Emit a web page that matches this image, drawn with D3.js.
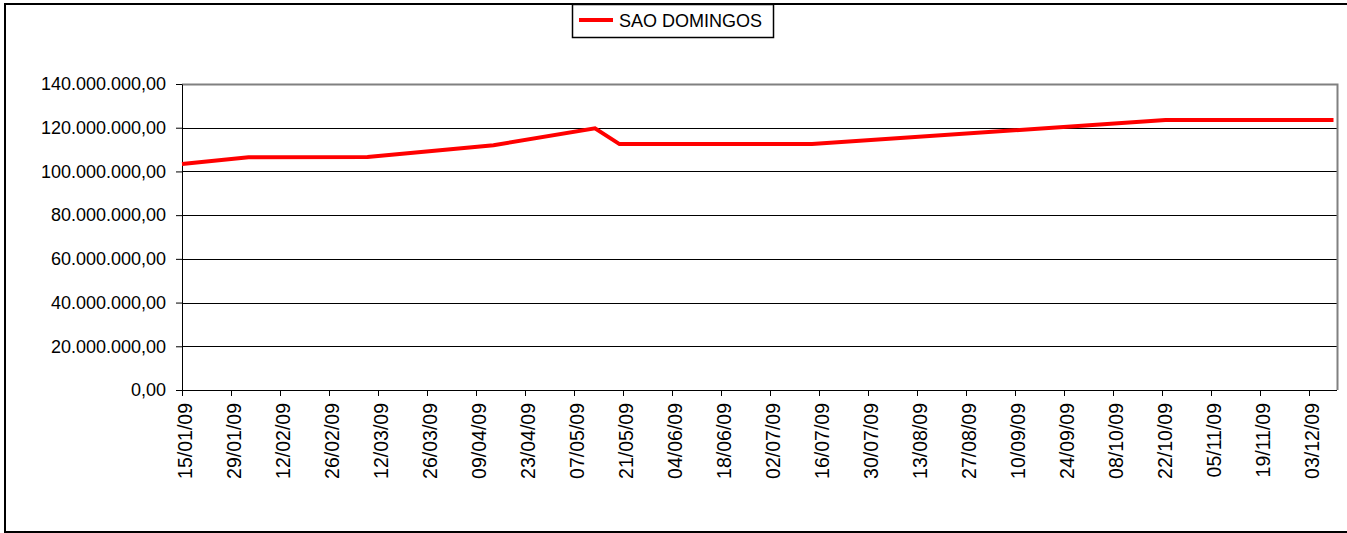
<!DOCTYPE html>
<html>
<head>
<meta charset="utf-8">
<script src="https://cdn.jsdelivr.net/npm/d3@7.9.0/dist/d3.min.js"></script>
<style>
  body { margin: 0; background: #fff; }
  svg { display: block; font-family: "Liberation Sans", Arial, sans-serif; }
</style>
</head>
<body>
<div id="chart"></div>
<script>
// series
const seriesName = 'SAO DOMINGOS';
const dates = ['15/01/09', '03/02/09', '09/03/09', '14/04/09', '13/05/09', '20/05/09', '14/07/09', '23/10/09', '10/12/09'];
const values = [103400000, 106500000, 106600000, 112000000, 119700000, 112500000, 112500000, 123500000, 123500000];

// axis ticks
const xTickLabels = ['15/01/09', '29/01/09', '12/02/09', '26/02/09', '12/03/09', '26/03/09', '09/04/09', '23/04/09',
  '07/05/09', '21/05/09', '04/06/09', '18/06/09', '02/07/09', '16/07/09', '30/07/09', '13/08/09', '27/08/09',
  '10/09/09', '24/09/09', '08/10/09', '22/10/09', '05/11/09', '19/11/09', '03/12/09'];
const yTicks = [0, 20000000, 40000000, 60000000, 80000000, 100000000, 120000000, 140000000];
const xDomain = ['15/01/09', '11/12/09'];

const parseDate = d3.timeParse('%d/%m/%y');
const data = dates.map((d, i) => ({ date: parseDate(d), value: values[i] }));

const width = 1347;
const height = 533;
const plot = { left: 182, right: 1337, top: 84, bottom: 390 };

const locale = d3.formatLocale({ decimal: ',', thousands: '.', grouping: [3], currency: ['', ''] });
const fmt = locale.format(',.2f');

const svg = d3.select('#chart')
  .append('svg')
  .attr('width', width)
  .attr('height', height);

// outer frame
svg.append('rect')
  .attr('x', 5)
  .attr('y', 4)
  .attr('width', width)
  .attr('height', 528)
  .attr('fill', 'none')
  .attr('stroke', '#000')
  .attr('stroke-width', 2);

const xScale = d3.scaleTime()
  .domain(xDomain.map(parseDate))
  .range([plot.left, plot.right]);

const yScale = d3.scaleLinear()
  .domain([0, 140000000])
  .range([plot.bottom, plot.top]);

// gridlines
svg.append('g')
  .selectAll('line')
  .data(yTicks.filter(d => d > 0 && d < 140000000))
  .join('line')
  .attr('x1', plot.left)
  .attr('x2', plot.right)
  .attr('y1', d => Math.round(yScale(d)) + 0.5)
  .attr('y2', d => Math.round(yScale(d)) + 0.5)
  .attr('stroke', '#000')
  .attr('stroke-width', 1);

// plot area border (top + right, grey)
svg.append('path')
  .attr('d', `M${plot.left},${plot.top + 0.5}H${plot.right + 0.5}V${plot.bottom}`)
  .attr('fill', 'none')
  .attr('stroke', '#808080')
  .attr('stroke-width', 2);

// Y axis
const yAxis = d3.axisLeft(yScale)
  .tickValues(yTicks)
  .tickFormat(fmt)
  .tickSize(6)
  .tickSizeOuter(0)
  .tickPadding(10);

const gy = svg.append('g')
  .attr('transform', `translate(${plot.left}, 0)`)
  .call(yAxis);
gy.selectAll('text')
  .attr('font-size', 18)
  .attr('font-family', '"Liberation Sans", Arial, sans-serif')
  .attr('fill', '#000');
gy.selectAll('line, path').attr('stroke', '#000');

// X axis
const xAxis = d3.axisBottom(xScale)
  .tickValues(xTickLabels.map(parseDate))
  .tickFormat(d3.timeFormat('%d/%m/%y'))
  .tickSize(6)
  .tickSizeOuter(0);

const gx = svg.append('g')
  .attr('transform', `translate(0, ${plot.bottom})`)
  .call(xAxis);
gx.selectAll('line, path').attr('stroke', '#000');
gx.select('.domain').attr('d', `M${plot.left - 6},0.5H${plot.right}`);
gx.selectAll('text')
  .attr('font-size', 19.5)
  .attr('font-family', '"Liberation Sans", Arial, sans-serif')
  .attr('fill', '#000')
  .attr('text-anchor', 'end')
  .attr('y', 0)
  .attr('dy', null)
  .attr('transform', 'translate(9, 13) rotate(-90)');

// series line
const line = d3.line()
  .x(d => xScale(d.date))
  .y(d => yScale(d.value));

svg.append('path')
  .datum(data)
  .attr('d', line)
  .attr('fill', 'none')
  .attr('stroke', '#ff0000')
  .attr('stroke-width', 4)
  .attr('stroke-linejoin', 'miter');

// legend
const legend = svg.append('g').attr('transform', 'translate(572, 4)');
legend.append('rect')
  .attr('x', 0.5)
  .attr('y', 0.5)
  .attr('width', 201)
  .attr('height', 33)
  .attr('fill', '#fff')
  .attr('stroke', '#000')
  .attr('stroke-width', 1.5);
legend.append('line')
  .attr('x1', 7)
  .attr('x2', 41)
  .attr('y1', 16)
  .attr('y2', 16)
  .attr('stroke', '#ff0000')
  .attr('stroke-width', 4);
legend.append('text')
  .attr('x', 47)
  .attr('y', 23)
  .attr('font-size', 18)
  .attr('fill', '#000')
  .text(seriesName);
</script>
</body>
</html>
